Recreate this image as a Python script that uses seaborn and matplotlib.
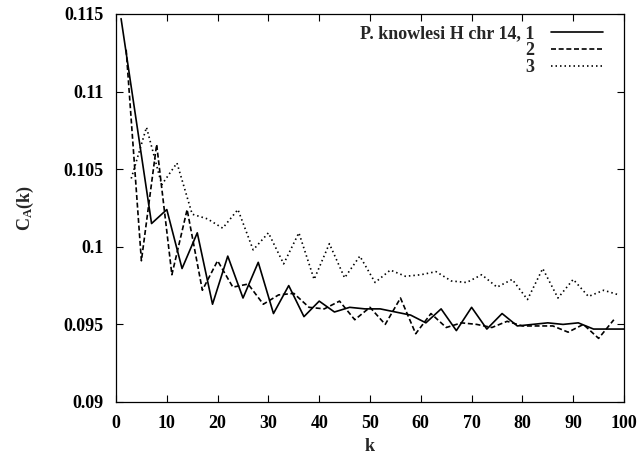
import pandas as pd
import matplotlib
matplotlib.use("Agg")
import matplotlib.pyplot as plt
import seaborn as sns

# datos (tres series, cada una con paso 3 en k)
k1 = list(range(1, 101, 3))
c1 = [0.1147, 0.1081, 0.1015, 0.1024, 0.0986, 0.1009, 0.0963, 0.0994, 0.0967, 0.0990,
      0.0957, 0.0975, 0.0955, 0.0965, 0.0958, 0.0961, 0.0960, 0.0960, 0.0958, 0.0956,
      0.0951, 0.0960, 0.0946, 0.0961, 0.0947, 0.0957, 0.0949, 0.0950, 0.0951, 0.0950,
      0.0951, 0.0947, 0.0947, 0.0947]

k2 = list(range(2, 99, 3))
c2 = [0.1127, 0.0991, 0.1066, 0.0982, 0.1024, 0.0972, 0.0991, 0.0974, 0.0976, 0.0963,
      0.0969, 0.0970, 0.0961, 0.0960, 0.0965, 0.0953, 0.0961, 0.0950, 0.0967, 0.0944,
      0.0957, 0.0948, 0.0951, 0.0950, 0.0948, 0.0952, 0.0949, 0.0949, 0.0949, 0.0945,
      0.0950, 0.0941, 0.0953]

k3 = list(range(3, 100, 3))
c3 = [0.1044, 0.1077, 0.1040, 0.1054, 0.1021, 0.1018, 0.1012, 0.1024, 0.0998, 0.1009,
      0.0989, 0.1009, 0.0979, 0.1002, 0.0980, 0.0994, 0.0977, 0.0985, 0.0981, 0.0982,
      0.0984, 0.0978, 0.0977, 0.0982, 0.0974, 0.0979, 0.0966, 0.0986, 0.0967, 0.0979,
      0.0968, 0.0972, 0.0969]

labels = ["P. knowlesi H chr 14, 1", "2", "3"]
xticks = list(range(0, 101, 10))
yticks = [0.09, 0.095, 0.1, 0.105, 0.11, 0.115]
ytick_labels = ["0.09", "0.095", "0.1", "0.105", "0.11", "0.115"]

sns.set_style("ticks")
plt.rcParams["font.family"] = ["Liberation Serif", "DejaVu Serif"]
plt.rcParams["font.weight"] = "bold"
plt.rcParams["mathtext.fontset"] = "custom"
plt.rcParams["mathtext.rm"] = "Liberation Serif:bold"
plt.rcParams["mathtext.bf"] = "Liberation Serif:bold"
plt.rcParams["mathtext.it"] = "Liberation Serif:bold"

fig = plt.figure(figsize=(6.42, 4.57), dpi=100)
ax = fig.add_axes([116 / 642, 1 - 402 / 457, (624 - 116) / 642, (402 - 14) / 457])

series = [(k1, c1, labels[0], None), (k2, c2, labels[1], (3, 1.6)), (k3, c3, labels[2], (0.9, 1.8))]
for kk, cc, lab, dash in series:
    df = pd.DataFrame({"k": kk, "C": cc})
    sns.lineplot(data=df, x="k", y="C", color="black", linewidth=1.2, label=lab, ax=ax)
    if dash is not None:
        ax.lines[-1].set_dashes(dash)

ax.set_xlim(0, 100)
ax.set_ylim(0.09, 0.115)
ax.set_xticks(xticks)
ax.set_yticks(yticks)
ax.set_yticklabels(ytick_labels)
ax.tick_params(direction="in", length=5, width=0.8, top=True, right=True, labelsize=13, pad=9, colors="black")
for s in ax.spines.values():
    s.set_linewidth(0.9)
    s.set_color("black")

ax.set_xlabel("k", fontsize=13, fontweight="bold", labelpad=5)
ax.set_ylabel(r"$\mathrm{C_A(k)}$", fontsize=13, labelpad=20)

leg = ax.legend(loc="upper right", frameon=False, markerfirst=False, fontsize=13,
                handlelength=2.9, handletextpad=0.9, labelspacing=0.0,
                borderpad=0, borderaxespad=0,
                bbox_to_anchor=(603 / 642, 1 - 25 / 457), bbox_transform=fig.transFigure)
for t in leg.get_texts():
    t.set_fontweight("bold")

fig.savefig("out.png", dpi=100)
